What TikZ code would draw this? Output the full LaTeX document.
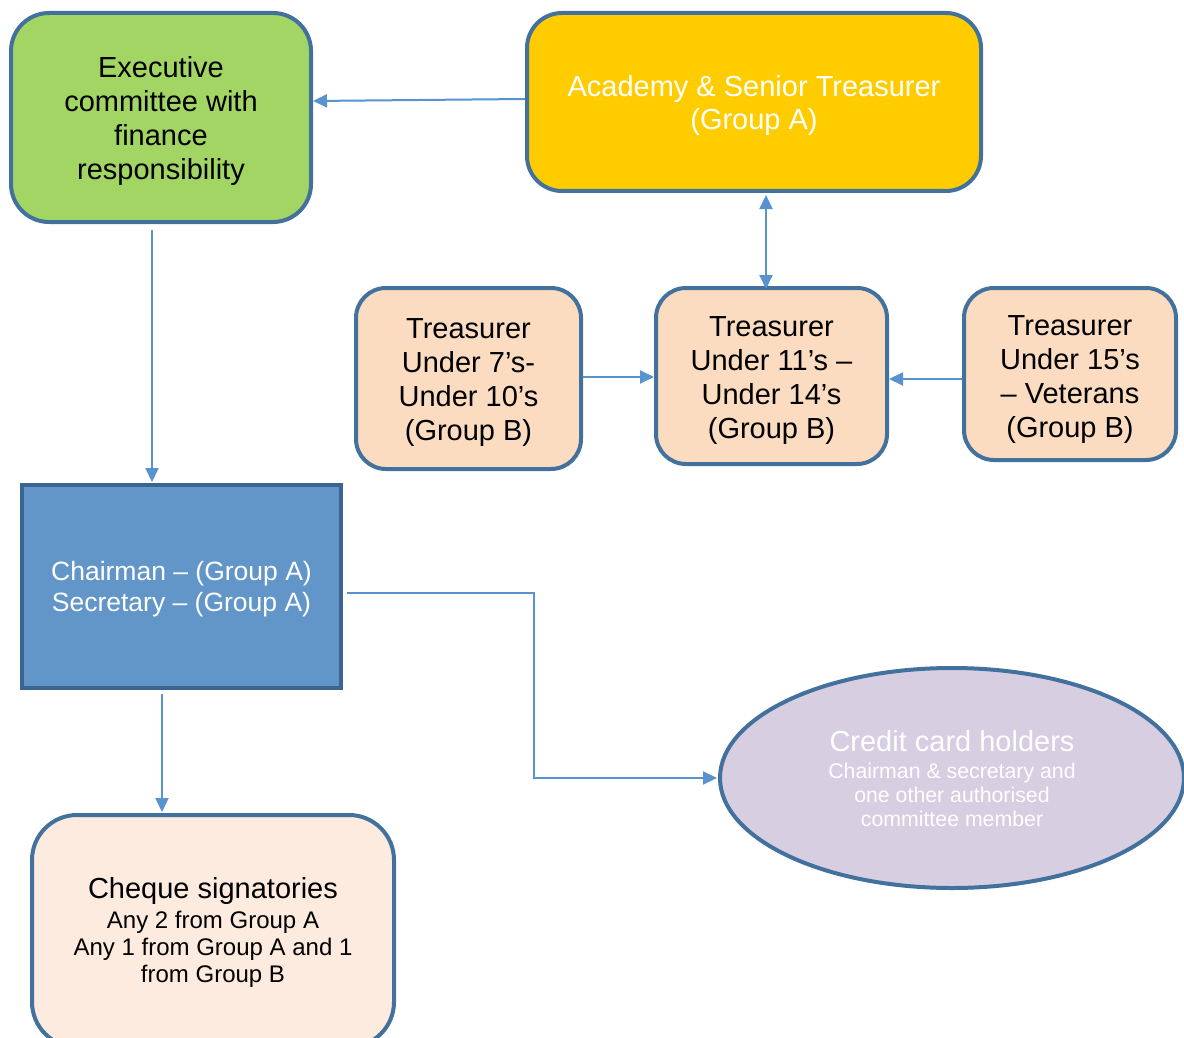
\documentclass[tikz,border=0pt]{standalone}
\usepackage{fontspec}
\setmainfont{Liberation Sans}
\usetikzlibrary{arrows.meta,shapes.geometric,calc}
\definecolor{bordc}{RGB}{65,113,156}
\definecolor{arrc}{RGB}{88,146,207}
\definecolor{greenc}{RGB}{162,213,100}
\definecolor{yellc}{RGB}{255,204,0}
\definecolor{peachc}{RGB}{251,220,192}
\definecolor{bluec}{RGB}{98,150,201}
\definecolor{bluebord}{RGB}{60,100,145}
\definecolor{lavc}{RGB}{215,206,226}
\definecolor{chqc}{RGB}{253,235,223}
\tikzset{
  boxbase/.style={draw=bordc, line width=4pt, inner sep=0pt},
  rbox/.style={boxbase, rounded corners=#1},
  txt/.style={align=center, inner sep=0pt},
  bigtxt/.style={txt, font=\fontsize{29}{34}\selectfont},
  conn/.style={draw=arrc, line width=2pt, -{Triangle[length=14pt,width=13pt]}},
  dconn/.style={draw=arrc, line width=2pt, {Triangle[length=14pt,width=13pt]}-{Triangle[length=14pt,width=13pt]}}
}
\begin{document}
\begin{tikzpicture}[x=1pt,y=-1pt]
\useasboundingbox (0,0) rectangle (1184,1038);
% shapes
\node[rbox=38pt, fill=greenc, minimum width=300pt, minimum height=209pt] (exec) at (161,117.5) {};
\node[rbox=35pt, fill=yellc, minimum width=454pt, minimum height=178pt] (acad) at (754,102) {};
\node[rbox=30pt, fill=peachc, minimum width=225pt, minimum height=181pt] (tl) at (468.5,378.5) {};
\node[rbox=30pt, fill=peachc, minimum width=231pt, minimum height=176pt] (tm) at (771.5,376) {};
\node[rbox=30pt, fill=peachc, minimum width=212pt, minimum height=172pt] (tr) at (1070,374) {};
\node[boxbase, draw=bluebord, fill=bluec, minimum width=319pt, minimum height=203pt] (chair) at (181.5,586.5) {};
\node[boxbase, ellipse, fill=lavc, minimum width=464pt, minimum height=220pt] (ell) at (952,778) {};
\node[rbox=45pt, fill=chqc, minimum width=362pt, minimum height=232pt] (chq) at (213,931) {};
% texts
\node[bigtxt] (exect) at ([yshift=-4pt]exec.center)
  {Executive\\committee with\\finance\\responsibility};
\node[bigtxt, text=white, font=\fontsize{29}{33}\selectfont] (acadt) at ([yshift=-4pt]acad.center)
  {Academy \& Senior Treasurer\\(Group A)};
\node[bigtxt] (tlt) at ([yshift=-4pt]tl.center)
  {Treasurer\\Under 7’s-\\Under 10’s\\(Group B)};
\node[bigtxt] (tmt) at ([yshift=-4.5pt]tm.center)
  {Treasurer\\Under 11’s –\\Under 14’s\\(Group B)};
\node[bigtxt] (trt) at ([yshift=-6pt]tr.center)
  {Treasurer\\Under 15’s\\– Veterans\\(Group B)};
\node[txt, text=white, font=\fontsize{26.5}{31}\selectfont] (chairt) at ([yshift=-3pt]chair.center)
  {Chairman – (Group A)\\Secretary – (Group A)};
\node[txt, text=white, font=\fontsize{21.3}{24}\selectfont] (ellt) at (952,779)
  {\fontsize{29}{30}\selectfont Credit card holders\\[3pt]
   Chairman \& secretary and\\one other authorised\\committee member};
\node[txt, font=\fontsize{24}{27}\selectfont] (chqt) at (213,932)
  {\fontsize{29}{32}\selectfont Cheque signatories\\[3pt]
   Any 2 from Group A\\Any 1 from Group A and 1\\from Group B};
% connectors
\draw[conn] ([yshift=3pt]acad.west) -- ([yshift=16.5pt]exec.east);
\draw[dconn] ([xshift=12pt,yshift=-2pt]acad.south) -- ([xshift=-5.5pt,yshift=-3pt]tm.north);
\draw[conn] ([yshift=1.5pt]tl.east) -- ([yshift=1.5pt]tl.east -| tm.west);
\draw[conn] ([yshift=-5pt]tr.west) -- ([yshift=-5pt]tr.west -| tm.east);
\draw[conn] ([xshift=-9pt,yshift=-6pt]exec.south) -- ([xshift=-29.5pt,yshift=1pt]chair.north);
\draw[conn] ([xshift=-19.5pt,yshift=-4pt]chair.south) -- ([xshift=-51pt,yshift=1pt]chq.north);
\draw[conn] ([xshift=4pt,yshift=-6.5pt]chair.east) -- ++(187,0) |- ([xshift=-1pt]ell.west);
\end{tikzpicture}
\end{document}
